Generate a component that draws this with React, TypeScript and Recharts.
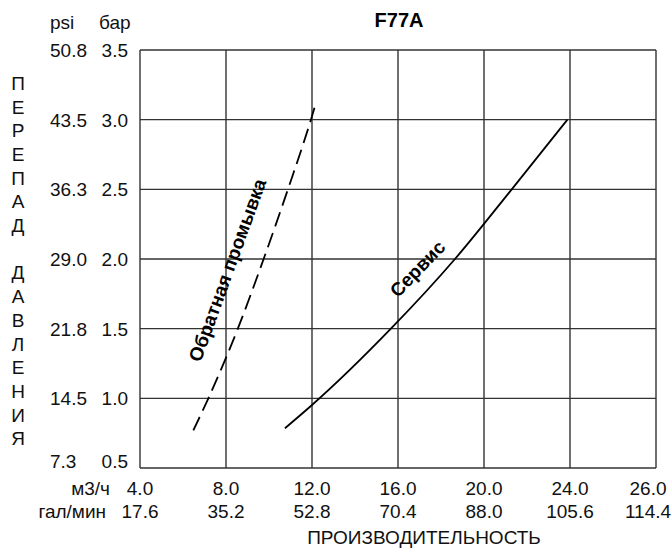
import React from "react";
import { LineChart, Line, XAxis, YAxis, CartesianGrid, ReferenceDot } from "recharts";

const FONT = "'Liberation Sans', Arial, sans-serif";

// X axis: flow (m3/h) tick positions and labels, gal/min labels
const flowTicks = [4, 8, 12, 16, 20, 24, 28];
const flowLabels = ["4.0", "8.0", "12.0", "16.0", "20.0", "24.0", "26.0"];
const galLabels = ["17.6", "35.2", "52.8", "70.4", "88.0", "105.6", "114.4"];

// Y axis: pressure drop (bar) tick positions and labels, psi labels
const barTicks = [0.5, 1.0, 1.5, 2.0, 2.5, 3.0, 3.5];
const barLabels = ["0.5", "1.0", "1.5", "2.0", "2.5", "3.0", "3.5"];
const psiLabels = ["7.3", "14.5", "21.8", "29.0", "36.3", "43.5", "50.8"];

// Backwash curve (dashed)
const backwashFlow = [6.48, 7.18, 8.55, 9.75, 10.88, 11.95, 12.2];
const backwashDrop = [0.77, 1.0, 1.5, 2.0, 2.5, 3.0, 3.13];

// Service curve (solid)
const serviceFlow = [10.74, 12.0, 15.67, 18.65, 21.29, 23.88];
const serviceDrop = [0.785, 0.952, 1.5, 2.0, 2.5, 3.0];

const yTitle = "ПЕРЕПАД ДАВЛЕНИЯ";

const backwash = backwashFlow.map((x, i) => ({ x, y: backwashDrop[i] }));
const service = serviceFlow.map((x, i) => ({ x, y: serviceDrop[i] }));

const YTick = (props: any) => {
  const { y, index } = props;
  const dy = index === 0 ? -7 : 0;
  return (
    <g fontFamily={FONT} fontSize={19} fill="#111">
      <text x={50} y={y + dy} dy="0.36em" textAnchor="start">{psiLabels[index]}</text>
      <text x={128} y={y + dy} dy="0.36em" textAnchor="end">{barLabels[index]}</text>
    </g>
  );
};

const XTick = (props: any) => {
  const { x, index } = props;
  const dx = index === flowTicks.length - 1 ? -8 : 0;
  return (
    <g fontFamily={FONT} fontSize={19} fill="#111">
      <text x={x + dx} y={495} textAnchor="middle">{flowLabels[index]}</text>
      <text x={x + dx} y={518} textAnchor="middle">{galLabels[index]}</text>
    </g>
  );
};

const curveLabel = (text: string, angle: number) => (p: any) => (
  <text
    x={p.cx}
    y={p.cy}
    transform={`rotate(${angle} ${p.cx} ${p.cy})`}
    textAnchor="middle"
    dominantBaseline="central"
    fontFamily={FONT}
    fontSize={19}
    fontWeight="bold"
    fill="#000"
  >
    {text}
  </text>
);

export default function App() {
  const letters = yTitle.split("");
  return (
    <div style={{ position: "absolute", left: 0, top: 0, width: 672, height: 548, background: "#fff" }}>
      <LineChart
        width={672}
        height={548}
        margin={{ top: 50, right: 16, left: 10, bottom: 10 }}
      >
        <CartesianGrid stroke="#333" strokeWidth={1.4} />
        <XAxis
          type="number"
          dataKey="x"
          domain={[4, 28]}
          ticks={flowTicks}
          interval={0}
          height={70}
          axisLine={false}
          tickLine={false}
          tick={<XTick />}
        />
        <YAxis
          type="number"
          domain={[0.5, 3.5]}
          ticks={barTicks}
          interval={0}
          width={130}
          axisLine={false}
          tickLine={false}
          tick={<YTick />}
        />
        <Line
          data={backwash}
          dataKey="y"
          type="monotone"
          stroke="#000"
          strokeWidth={1.8}
          strokeDasharray="15 7"
          dot={false}
          isAnimationActive={false}
        />
        <Line
          data={service}
          dataKey="y"
          type="monotone"
          stroke="#000"
          strokeWidth={1.8}
          dot={false}
          isAnimationActive={false}
        />
        <ReferenceDot x={8.07} y={1.92} r={0} shape={curveLabel("Обратная промывка", -70)} />
        <ReferenceDot x={16.91} y={1.93} r={0} shape={curveLabel("Сервис", -46)} />
      </LineChart>
      <svg
        width={672}
        height={548}
        style={{ position: "absolute", left: 0, top: 0, pointerEvents: "none" }}
        fontFamily={FONT}
        fill="#111"
      >
        <text x={399} y={27} textAnchor="middle" fontSize={20} fontWeight="bold" fill="#000">F77A</text>
        <text x={50} y={29} fontSize={19}>psi</text>
        <text x={99} y={29} fontSize={19}>бар</text>
        <text x={110} y={495} fontSize={19} textAnchor="end">м3/ч</text>
        <text x={106} y={518} fontSize={19} textAnchor="end">гал/мин</text>
        <text x={424} y={544} fontSize={19} textAnchor="middle">ПРОИЗВОДИТЕЛЬНОСТЬ</text>
        {letters.map((ch, i) => (
          <text key={i} x={18} y={83 + i * 23.7} dy="0.36em" fontSize={19} textAnchor="middle">
            {ch}
          </text>
        ))}
      </svg>
    </div>
  );
}
